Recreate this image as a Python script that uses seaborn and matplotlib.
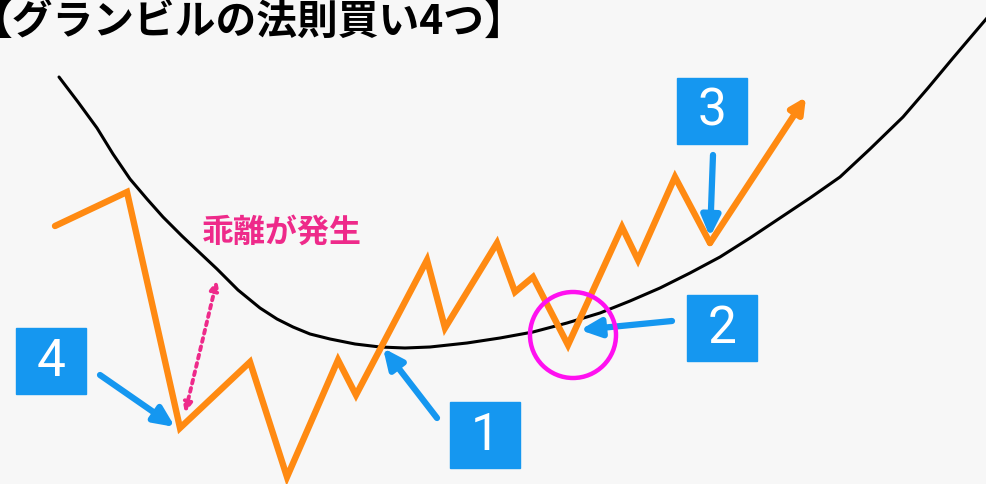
import matplotlib
matplotlib.use('Agg')
import matplotlib.pyplot as plt
import seaborn as sns
import pandas as pd
from matplotlib.patches import Rectangle, Circle

# price path (pixel-like coordinates, y grows downward)
price_x = [55, 127, 180, 250, 287, 338, 356, 427, 445, 497, 515, 533, 568, 622, 638, 675, 710, 806]
price_y = [226, 192, 428, 362, 477, 360, 395, 260, 328, 243, 292, 277, 345, 227, 260, 177, 243, 97]

# moving average curve
ma_x = [59, 78, 97, 113, 130, 147, 163, 182, 200, 217, 238, 260, 277, 293, 310, 330, 355, 380,
        405, 430, 467, 500, 533, 567, 600, 630, 660, 690, 720, 750, 780, 810, 840, 870, 903,
        928, 953, 970, 987]
ma_y = [77, 102, 128, 154, 179, 199, 217, 236, 253, 269, 290, 308, 319, 327, 334, 339, 344, 347,
        348, 347, 343, 338, 332, 323, 313, 301, 288, 273, 257, 238, 218, 198, 177, 149, 117,
        88, 58, 38, 18]

labels = ['1', '2', '3', '4']
label_box = [(450, 402), (687, 295), (677, 78), (16, 328)]
arrow_tail = [(437, 418), (672, 321), (713, 155), (100, 375)]
arrow_tip = [(383, 348), (580, 330), (710, 237), (175, 427)]

title = '【グランビルの法則買い4つ】'
gap_label = '乖離が発生'

sns.set_style('white')
plt.rcParams['font.family'] = ['Noto Sans CJK JP', 'DejaVu Sans']

bg = '#f7f7f7'
orange = '#ff8a12'
blue = '#1597f0'
pink = '#ee2a8a'

fig = plt.figure(figsize=(9.87, 4.84), dpi=100, facecolor=bg)
ax = fig.add_axes([0, 0, 1, 1])
ax.set_facecolor(bg)

ma_df = pd.DataFrame({'x': ma_x, 'y': ma_y})
sns.lineplot(data=ma_df, x='x', y='y', sort=False, color='black', linewidth=2.2, ax=ax)

price_df = pd.DataFrame({'x': price_x[:-1], 'y': price_y[:-1]})
sns.lineplot(data=price_df, x='x', y='y', sort=False, color=orange, linewidth=4.6, ax=ax)
ax.lines[-1].set_solid_joinstyle('miter')
ax.lines[-1].set_solid_capstyle('round')

ax.annotate('', xy=(price_x[-1], price_y[-1]), xytext=(price_x[-2], price_y[-2]),
            arrowprops=dict(arrowstyle='-|>,head_length=0.9,head_width=0.45', color=orange,
                            lw=4.6, shrinkA=0, shrinkB=0))

# blue arrows and numbered boxes
for lab, (bx, by), tail, tip in zip(labels, label_box, arrow_tail, arrow_tip):
    ax.annotate('', xy=tip, xytext=tail,
                arrowprops=dict(arrowstyle='-|>,head_length=1.2,head_width=0.55', color=blue,
                                lw=4.5, shrinkA=0, shrinkB=0, capstyle='round'))
    ax.add_patch(Rectangle((bx, by), 70, 66, color=blue, zorder=3))
    ax.text(bx + 35, by + 34, lab, color='white', fontsize=37, family='Roboto',
            ha='center', va='center', zorder=4)

# highlighted bounce point
ax.add_patch(Circle((573, 335), 43, fill=False, edgecolor='#ff10f0', lw=3.2, zorder=5))

# divergence marker
ax.annotate('', xy=(217, 280), xytext=(185, 413),
            arrowprops=dict(arrowstyle='<|-|>,head_length=0.55,head_width=0.25', color=pink,
                            lw=2.8, linestyle=(0, (1.0, 1.2)), shrinkA=0, shrinkB=0))
ax.text(202, 233, gap_label, color=pink, fontsize=23, fontweight='bold', ha='left', va='center')

ax.text(-29, 22, title, color='black', fontsize=29.3, fontweight='bold', ha='left', va='center')

ax.set_xlim(0, 987)
ax.set_ylim(484, 0)
ax.axis('off')

fig.savefig('out.png', dpi=100, facecolor=bg)
